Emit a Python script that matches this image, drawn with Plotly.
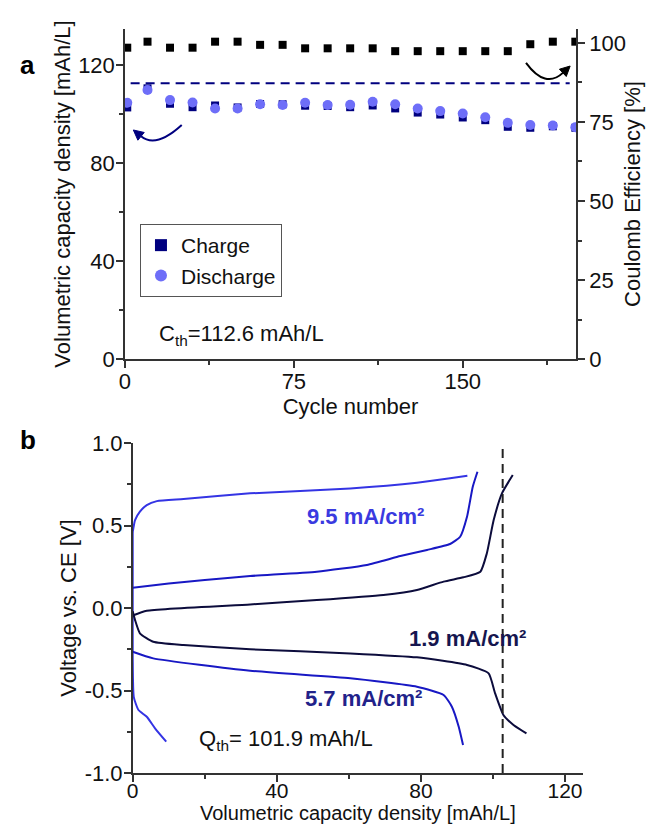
import math
import plotly.graph_objects as go

# ---------------- Panel a data ----------------
cycles = [1, 10, 20, 30, 40, 50, 60, 70, 80, 90, 100, 110, 120, 130, 140, 150, 160, 170, 180, 190, 200]
charge = [102.7, 110.5, 104.2, 102.8, 103.5, 102.7, 104.1, 104.0, 103.4, 103.3, 102.8, 103.5, 102.3,
          100.6, 99.8, 98.6, 97.5, 94.8, 94.4, 95.0, 94.4]
discharge = [104.6, 109.8, 105.7, 104.7, 102.3, 102.3, 104.0, 103.7, 104.6, 103.7, 103.8, 105.0, 104.0,
             102.3, 101.2, 100.2, 98.7, 96.4, 95.5, 95.3, 94.6]
coulomb_eff = [98.5, 100.4, 98.5, 98.5, 100.4, 100.4, 99.4, 99.4, 98.3, 98.3, 98.3, 98.3, 97.4,
               97.4, 97.4, 97.4, 97.4, 97.4, 99.6, 100.4, 100.4]
c_th = 112.6
c_th_span = [2.5, 197.5]

# ---------------- Panel b data ----------------
c95_charge_x = [0, 0.65, 2.0, 3.9, 6.7, 14.1, 32.6, 60.4, 78.9, 88.1, 92.9]
c95_charge_v = [0.46, 0.533, 0.584, 0.624, 0.648, 0.661, 0.695, 0.725, 0.759, 0.786, 0.802]
c95_dis_x = [0, 0, 0.3, 1.6, 3.9, 6.2, 9.3]
c95_dis_v = [0.46, -0.3, -0.54, -0.618, -0.659, -0.729, -0.81]

c57_charge_x = [0, 10, 20, 32.6, 51.1, 65, 74.3, 81.7, 88.1, 90.9, 92.8, 94.4, 95.7]
c57_charge_v = [0.123, 0.148, 0.17, 0.194, 0.22, 0.261, 0.315, 0.352, 0.388, 0.432, 0.553, 0.735, 0.826]
c57_dis_x = [0, 5.7, 32.6, 60.4, 78.9, 86.3, 88.6, 90.5, 91.7]
c57_dis_v = [-0.265, -0.305, -0.38, -0.426, -0.477, -0.527, -0.598, -0.719, -0.83]

c19_charge_x = [0, 3.9, 32.6, 51.1, 69.6, 78.9, 86.3, 91.8, 96.5, 98.3, 100.2, 102.5, 105.5]
c19_charge_v = [-0.045, -0.016, 0.022, 0.048, 0.079, 0.109, 0.16, 0.186, 0.22, 0.331, 0.533, 0.695, 0.806]
c19_dis_x = [0, 0.65, 2.0, 5.7, 14.1, 32.6, 60.4, 78.9, 92.8, 98.8, 100.6, 102.9, 105.7, 109.3]
c19_dis_v = [-0.02, -0.073, -0.153, -0.204, -0.224, -0.25, -0.275, -0.299, -0.345, -0.396, -0.517,
             -0.648, -0.709, -0.76]
q_th_line = 102.7

volt_ticks = [-1, -0.5, 0, 0.5, 1]
volt_ticktext = ["-1.0", "-0.5", "0.0", "0.5", "1.0"]

FONT = "Arial, Liberation Sans, sans-serif"
NAVY = "#00007f"
LIGHT = "#6e6ef8"
C95 = "#3434e4"
C57 = "#1818c4"
C19 = "#0c0c3c"
AX = "#333333"
FS = 22

W, H = 648, 825
XA_DOM = [0.1929, 0.8889]
YA_DOM = [0.5648, 0.9648]
XA_RANGE = [0, 200.3]
YA_RANGE = [0, 134.7]

fig = go.Figure()

# Panel a traces
fig.add_trace(go.Scatter(x=cycles, y=coulomb_eff, mode="markers", yaxis="y2", xaxis="x",
                         marker=dict(symbol="square", size=8, color="black"), showlegend=False))
fig.add_trace(go.Scatter(x=c_th_span, y=[c_th, c_th], mode="lines", xaxis="x", yaxis="y",
                         line=dict(color=NAVY, width=2, dash="9px,6px"), showlegend=False))
fig.add_trace(go.Scatter(x=cycles, y=charge, mode="markers", name="Charge", xaxis="x", yaxis="y",
                         marker=dict(symbol="square", size=8, color=NAVY)))
fig.add_trace(go.Scatter(x=cycles, y=discharge, mode="markers", name="Discharge", xaxis="x", yaxis="y",
                         marker=dict(symbol="circle", size=10, color=LIGHT)))

# Panel b traces
def curve(x, y, color):
    fig.add_trace(go.Scatter(x=x, y=y, mode="lines", xaxis="x2", yaxis="y3",
                             line=dict(color=color, width=2, shape="spline", smoothing=0.5),
                             showlegend=False))

curve(c95_dis_x, c95_dis_v, C95)
curve(c95_charge_x, c95_charge_v, C95)
curve(c57_charge_x, c57_charge_v, C57)
curve(c57_dis_x, c57_dis_v, C57)
curve(c19_charge_x, c19_charge_v, C19)
curve(c19_dis_x, c19_dis_v, C19)

tickfont = dict(family=FONT, size=FS, color="#111")
titlefont = dict(family=FONT, size=FS, color="#111")
common = dict(showgrid=False, zeroline=False, showline=True, linecolor=AX, linewidth=1.5,
              ticks="outside", ticklen=7, tickwidth=1.5, tickcolor=AX, tickfont=tickfont,
              automargin=False)
common_x2 = dict(common)
common_x2["tickfont"] = dict(family=FONT, size=21, color="#111")

fig.update_layout(
    width=W, height=H,
    margin=dict(l=0, r=0, t=0, b=0),
    paper_bgcolor="white", plot_bgcolor="white",
    font=dict(family=FONT, size=FS, color="#111"),
    xaxis=dict(domain=XA_DOM, anchor="y", range=XA_RANGE, tickvals=[0, 75, 150], ticklabelstandoff=-5,
               title=dict(text="Cycle number", font=titlefont, standoff=0),
               minor=dict(dtick=37.5, tick0=0, ticks="outside", ticklen=4, tickcolor=AX), **common),
    yaxis=dict(domain=YA_DOM, anchor="x", range=YA_RANGE, tickvals=[0, 40, 80, 120], ticklabelstandoff=-3,
               title=dict(text="Volumetric capacity density [mAh/L]", font=titlefont, standoff=1),
               minor=dict(dtick=20, tick0=0, ticks="outside", ticklen=4, tickcolor=AX), **common),
    yaxis2=dict(overlaying="y", side="right", anchor="x", range=[0, 104.4],
                tickvals=[0, 25, 50, 75, 100],
                title=dict(text="Coulomb Efficiency [%]", font=titlefont, standoff=0),
                minor=dict(dtick=12.5, tick0=0, ticks="outside", ticklen=4, tickcolor=AX), **common),
    xaxis2=dict(domain=[0.2048, 0.8997], anchor="y3", range=[0, 125], tickvals=[0, 40, 80, 120],
                ticklabelstandoff=-9,
                title=dict(text="Volumetric capacity density [mAh/L]",
                           font=dict(family=FONT, size=20, color="#111"), standoff=0),
                minor=dict(dtick=20, tick0=0, ticks="outside", ticklen=4, tickcolor=AX), **common_x2),
    yaxis3=dict(domain=[0.0630, 0.4630], anchor="x2", range=[-1, 1], ticklabelstandoff=-3,
                tickvals=volt_ticks, ticktext=volt_ticktext,
                title=dict(text="Voltage vs. CE [V]", font=titlefont, standoff=2),
                minor=dict(dtick=0.25, tick0=0, ticks="outside", ticklen=4, tickcolor=AX), **common),
    legend=dict(x=0.216, y=0.7285, xanchor="left", yanchor="top", bgcolor="white",
                bordercolor="#555", borderwidth=1, font=dict(family=FONT, size=21),
                itemsizing="constant", tracegroupgap=0),
)

# pixel scale of panel a (for arrowheads)
SX = W * (XA_DOM[1] - XA_DOM[0]) / (XA_RANGE[1] - XA_RANGE[0])
SY = H * (YA_DOM[1] - YA_DOM[0]) / (YA_RANGE[1] - YA_RANGE[0])


def arrow(start, ctrl, tip, color, L=10, Wd=5):
    dx = (tip[0] - ctrl[0]) * SX
    dy = (tip[1] - ctrl[1]) * SY
    n = math.hypot(dx, dy)
    ux, uy = dx / n, dy / n
    bx, by = -ux * L, -uy * L
    px, py = -uy * Wd, ux * Wd
    base = (tip[0] + bx / SX, tip[1] + by / SY)
    c1 = (tip[0] + (bx + px) / SX, tip[1] + (by + py) / SY)
    c2 = (tip[0] + (bx - px) / SX, tip[1] + (by - py) / SY)
    fig.add_shape(type="path", xref="x", yref="y",
                  path=f"M {start[0]},{start[1]} Q {ctrl[0]},{ctrl[1]} {base[0]},{base[1]}",
                  line=dict(color=color, width=2))
    fig.add_shape(type="path", xref="x", yref="y",
                  path=f"M {tip[0]},{tip[1]} L {c1[0]},{c1[1]} L {c2[0]},{c2[1]} Z",
                  line=dict(color=color, width=1), fillcolor=color)


arrow((25.2, 95.5), (13.75, 85.9), (3.7, 93.5), NAVY)
arrow((178.1, 120.9), (186.7, 110.15), (197.7, 119.6), "black")

# vertical dashed line (panel b)
fig.add_shape(type="line", xref="x2", yref="y3", x0=q_th_line, x1=q_th_line, y0=-1, y1=1.02,
              line=dict(color="#222", width=2, dash="9px,6px"))

ann = []
ann.append(dict(x=0.028, y=0.9418, xref="paper", yref="paper", text="<b>a</b>", showarrow=False,
                font=dict(size=26, family=FONT, color="black")))
ann.append(dict(x=0.028, y=0.4667, xref="paper", yref="paper", text="<b>b</b>", showarrow=False,
                font=dict(size=26, family=FONT, color="black")))
ann.append(dict(x=14.3, y=9.8, xref="x", yref="y", text="C<sub>th</sub>=112.6 mAh/L", xanchor="left",
                showarrow=False, font=dict(size=FS, family=FONT)))
ann.append(dict(x=17.8, y=-0.8, xref="x2", yref="y3", text="Q<sub>th</sub>= 101.9 mAh/L", xanchor="left",
                showarrow=False, font=dict(size=FS, family=FONT)))
ann.append(dict(x=47.9, y=0.553, xref="x2", yref="y3", text="<b>9.5 mA/cm²</b>", xanchor="left",
                showarrow=False, font=dict(size=FS, family=FONT, color="#3a3ae0")))
ann.append(dict(x=76.1, y=-0.184, xref="x2", yref="y3", text="<b>1.9 mA/cm²</b>", xanchor="left",
                showarrow=False, font=dict(size=FS, family=FONT, color="#16164f")))
ann.append(dict(x=47.4, y=-0.547, xref="x2", yref="y3", text="<b>5.7 mA/cm²</b>", xanchor="left",
                showarrow=False, font=dict(size=FS, family=FONT, color="#22228a")))
fig.update_layout(annotations=ann)

fig.write_html("out.html", config={"displayModeBar": False},
               post_script="document.body.style.margin='0';document.body.style.overflow='hidden';")
